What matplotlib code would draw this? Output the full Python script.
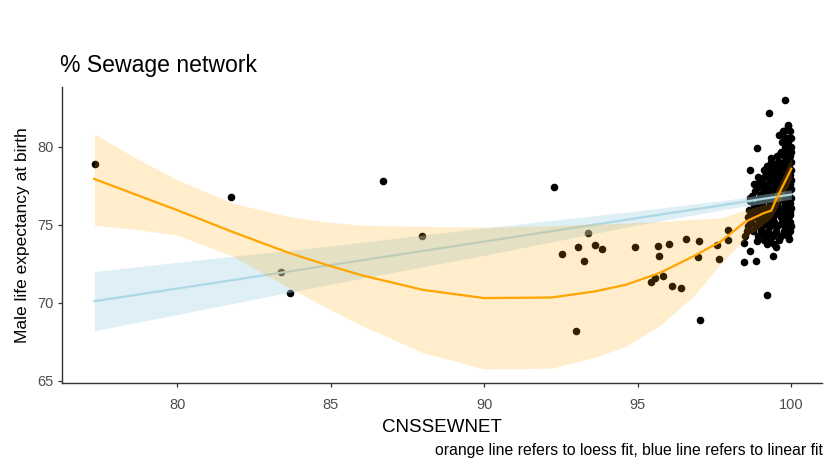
import matplotlib
matplotlib.use("Agg")
import matplotlib.pyplot as plt
import numpy as np

plt.rcParams['font.family'] = ['Liberation Sans', 'DejaVu Sans']

# Observed districts: % of households on the sewage network vs male life expectancy
sewer_pct = [
    77.32, 81.76, 83.37, 83.68, 86.70, 87.97, 92.26, 93.38, 92.54, 93.05,
    93.25, 93.60, 93.85, 93.00, 94.90, 95.66, 95.69, 96.02, 96.57, 96.99,
    96.96, 97.66, 97.58, 97.95, 97.93, 95.44, 95.57, 95.82, 96.11, 96.41,
    97.04,
    # high-coverage districts
    99.78, 99.29, 99.88, 99.72, 98.89, 99.35, 98.67, 98.91, 98.86,
    99.90, 99.75, 99.95, 99.85, 99.98, 99.70, 99.90, 99.80, 99.98,
    99.65, 99.85, 99.98, 99.55, 99.75, 99.95, 99.60, 99.80, 99.98,
    99.20, 99.50, 99.70, 99.90, 99.10, 99.40, 99.60, 99.85, 99.98,
    99.20, 99.45, 99.70, 99.95, 99.05, 99.30, 99.55, 99.80, 99.98,
    98.80, 99.00, 99.25, 99.50, 99.75, 99.95, 99.10, 99.35, 99.60, 99.85, 99.98,
    99.00, 99.20, 99.45, 99.70, 99.90, 98.64, 98.95, 99.15, 99.40, 99.65, 99.85, 99.98,
    99.05, 99.30, 99.55, 99.80, 99.95, 98.90, 99.10, 99.35, 99.60, 99.85, 99.98,
    98.75, 99.00, 99.25, 99.50, 99.75, 99.95, 98.58, 98.85, 99.10, 99.40, 99.65, 99.90,
    98.70, 98.95, 99.20, 99.45, 99.70, 99.95, 98.60, 98.85, 99.05, 99.30, 99.55, 99.80, 99.98,
    98.55, 98.75, 99.00, 99.25, 99.50, 99.75, 99.95, 98.48, 98.90, 99.15, 99.40, 99.65, 99.90,
    98.89, 99.10, 99.30, 99.60, 99.91, 98.47, 99.20, 99.45, 99.50, 98.67, 99.40, 98.84,
    98.45, 99.21, 99.35, 99.60, 99.80, 99.95, 99.15, 99.50, 99.75, 99.30, 99.65,
    99.82, 99.92, 99.62, 99.88, 99.52, 99.78, 99.38, 99.68, 99.92, 99.28, 99.58, 99.88,
    99.12, 99.42, 99.72, 99.02, 99.32, 99.62, 99.92, 98.92, 99.22, 99.52, 99.82,
    98.82, 99.12, 99.42, 99.72, 98.72, 99.02, 99.32, 99.62, 99.92, 98.66, 98.96,
    99.26, 99.56, 99.86, 98.62, 98.92, 99.22, 99.52, 99.82, 99.02, 99.36, 99.72,
    98.80, 99.05, 99.30, 99.55, 99.80, 98.70, 98.95, 99.20, 99.45, 99.70, 99.95,
    98.65, 98.90, 99.15, 99.40, 99.65, 99.90, 99.00, 99.25, 99.50, 99.75,
]
male_le = [
    78.90, 76.80, 72.00, 70.60, 77.80, 74.30, 77.40, 74.47, 73.14, 73.55,
    72.65, 73.70, 73.48, 68.16, 73.55, 73.63, 73.03, 73.80, 74.12, 73.97,
    72.95, 72.80, 73.70, 74.64, 74.00, 71.33, 71.58, 71.73, 71.07, 70.98,
    68.90,
    83.00, 82.20, 81.35, 81.00, 79.95, 79.05, 78.50, 78.10, 77.60,
    81.40, 81.00, 81.00, 80.60, 80.60, 80.30, 80.30, 80.00, 80.00,
    79.70, 79.70, 79.70, 79.40, 79.40, 79.40, 79.05, 79.05, 79.05,
    78.80, 78.80, 78.80, 78.80, 78.50, 78.50, 78.50, 78.50, 78.50,
    78.20, 78.20, 78.20, 78.20, 77.90, 77.90, 77.90, 77.90, 77.90,
    77.60, 77.60, 77.60, 77.60, 77.60, 77.60, 77.30, 77.30, 77.30, 77.30, 77.30,
    77.00, 77.00, 77.00, 77.00, 77.00, 76.70, 76.70, 76.70, 76.70, 76.70, 76.70, 76.70,
    76.40, 76.40, 76.40, 76.40, 76.40, 76.10, 76.10, 76.10, 76.10, 76.10, 76.10,
    75.80, 75.80, 75.80, 75.80, 75.80, 75.80, 75.50, 75.50, 75.50, 75.50, 75.50, 75.50,
    75.20, 75.20, 75.20, 75.20, 75.20, 75.20, 74.90, 74.90, 74.90, 74.90, 74.90, 74.90, 74.90,
    74.60, 74.60, 74.60, 74.60, 74.60, 74.60, 74.60, 74.30, 74.30, 74.30, 74.30, 74.30, 74.30,
    73.97, 74.00, 74.00, 74.00, 74.08, 73.83, 73.80, 73.80, 73.60, 73.30, 73.00, 72.70,
    72.60, 70.50, 79.30, 80.80, 80.60, 79.90, 75.70, 77.20, 78.70, 74.40, 76.90,
    80.15, 79.85, 79.55, 79.25, 78.95, 78.95, 78.65, 78.65, 78.65, 78.35, 78.35, 78.35,
    78.05, 78.05, 78.05, 77.75, 77.75, 77.75, 77.75, 77.45, 77.45, 77.45, 77.45,
    77.15, 77.15, 77.15, 77.15, 76.85, 76.85, 76.85, 76.85, 76.85, 76.55, 76.55,
    76.55, 76.55, 76.55, 75.95, 75.95, 75.95, 75.95, 75.95, 75.35, 75.35, 75.35,
    76.25, 76.25, 76.25, 76.25, 76.25, 75.65, 75.65, 75.65, 75.65, 75.65, 75.65,
    75.05, 75.05, 75.05, 75.05, 75.05, 75.05, 74.45, 74.45, 74.45, 74.45,
]

# Linear fit with its 95% band
lin_x = [77.3, 80.0, 85.0, 90.0, 95.0, 98.0, 100.0]
lin_fit = [70.10, 70.91, 72.42, 73.93, 75.44, 76.34, 76.95]
lin_lo = [68.20, 69.25, 71.20, 73.05, 75.00, 76.05, 76.65]
lin_hi = [72.00, 72.60, 73.65, 74.80, 75.90, 76.62, 77.25]

# Loess fit with its 95% band
loess_x = [77.3, 78.6, 80.0, 81.8, 83.6, 84.8, 86.0, 88.0, 90.0, 92.2, 93.6, 94.6,
           95.7, 96.8, 97.7, 98.5, 99.1, 99.35, 99.5, 100.0]
loess_fit = [77.95, 76.98, 75.95, 74.55, 73.23, 72.47, 71.77, 70.83, 70.30, 70.34, 70.73, 71.15,
             71.90, 72.97, 73.93, 75.20, 75.75, 75.92, 76.60, 78.60]
loess_lo = [74.98, 74.72, 74.35, 73.00, 71.00, 69.75, 68.55, 66.80, 65.75, 65.80, 66.50, 67.20,
            68.50, 70.40, 72.50, 74.10, 75.05, 75.45, 75.95, 77.90]
loess_hi = [80.84, 79.35, 77.90, 76.40, 75.55, 75.20, 74.98, 74.90, 74.85, 74.95, 75.05, 75.12,
            75.22, 75.35, 75.45, 75.95, 76.30, 76.40, 77.20, 79.30]

x_ticks = [80, 85, 90, 95, 100]
y_ticks = [65, 70, 75, 80]

fig = plt.figure(figsize=(8.27, 4.59), dpi=100)
ax = fig.add_axes([62 / 827, 76 / 459, 760 / 827, 296 / 459])

ax.scatter(sewer_pct, male_le, s=30, color='black', linewidths=0, zorder=1)

ax.fill_between(lin_x, lin_lo, lin_hi, color='lightblue', alpha=0.4, linewidth=0, zorder=2)
ax.plot(lin_x, lin_fit, color='lightblue', linewidth=1.6, zorder=3)

ax.fill_between(loess_x, loess_lo, loess_hi, color='orange', alpha=0.2, linewidth=0, zorder=4)
ax.plot(loess_x, loess_fit, color='orange', linewidth=1.6, zorder=5)

ax.set_xlim(76.25, 101.0)
ax.set_ylim(64.85, 83.85)
ax.set_xticks(x_ticks)
ax.set_yticks(y_ticks)

for side in ('top', 'right'):
    ax.spines[side].set_visible(False)
for side in ('left', 'bottom'):
    ax.spines[side].set_color('#333333')
    ax.spines[side].set_linewidth(1.0)
ax.tick_params(axis='both', length=3, width=0.9, color='#333333',
               labelcolor='#4d4d4d', labelsize=10.5)
ax.tick_params(axis='x', pad=8)
ax.tick_params(axis='y', pad=3)

ax.set_xlabel('CNSSEWNET', fontsize=13.5, color='black', labelpad=5)
ax.set_ylabel('Male life expectancy at birth', fontsize=12.5, color='black', labelpad=5)

fig.text(60 / 827, 1 - 72 / 459, '% Sewage network', fontsize=16.6, color='black',
         ha='left', va='baseline')
fig.text(823 / 827, 1 - 450 / 459, 'orange line refers to loess fit, blue line refers to linear fit',
         fontsize=11.3, color='black', ha='right', va='center')

fig.savefig('out.png', dpi=100)
